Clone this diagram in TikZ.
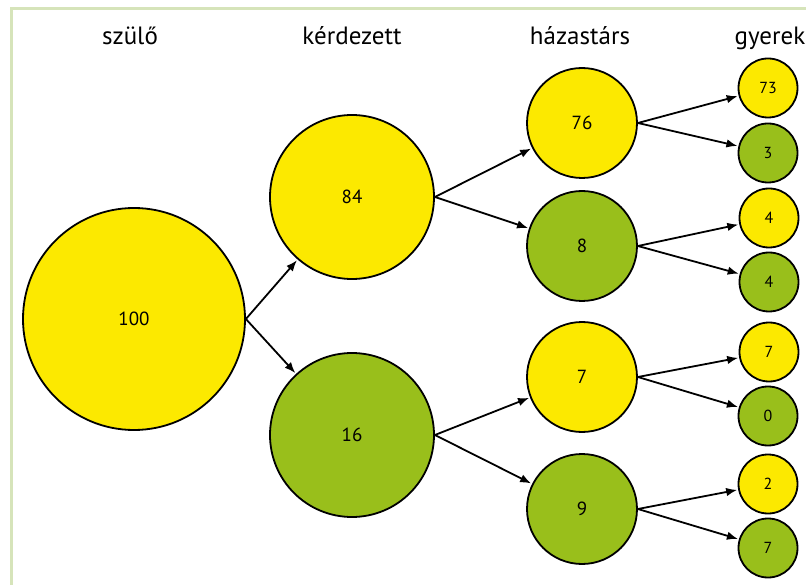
\documentclass[tikz,border=0pt]{standalone}
\usepackage{fontspec}
\setmainfont{PT Sans}
\usetikzlibrary{arrows.meta}
\definecolor{cyel}{RGB}{252,233,0}
\definecolor{cgrn}{RGB}{153,191,27}
\definecolor{cframe}{RGB}{214,228,186}
\tikzset{
  bub/.style={circle,draw=black,line width=1.8pt,inner sep=0pt,font=\fontsize{19}{19}\selectfont},
  big/.style={bub,minimum size=222pt},
  mid/.style={bub,minimum size=164pt},
  sml/.style={bub,minimum size=110pt},
  tiny/.style={bub,minimum size=59pt,font=\fontsize{16}{16}\selectfont},
  yel/.style={fill=cyel},
  grn/.style={fill=cgrn},
  hdr/.style={font=\fontsize{25}{25}\selectfont,anchor=base},
  arr/.style={-{Latex[length=11pt,width=8.5pt]},line width=1.8pt,shorten >=1pt},
}
\begin{document}
\begin{tikzpicture}[x=1pt,y=-1pt]
\useasboundingbox (0,0) rectangle (806,585);
\begin{scope}
\clip (0,0) rectangle (806,585);
\draw[cframe,line width=2.5pt] (11.5,8.5) rectangle (830,600);
\end{scope}
\node[hdr] (t1) at (130,45) {szülő};
\node[hdr] (t2) at (352,45) {kérdezett};
\node[hdr] (t3) at (580,45) {házastárs};
\node[hdr] (t4) at (770,45) {gyerek};

\node[big,yel] (p) at (134,319) {100};
\node[mid,yel] (k1) at (352,197) {84};
\node[mid,grn] (k2) at (352,435) {16};
\node[sml,yel] (h1) at (582,123) {76};
\node[sml,grn] (h2) at (582,246) {8};
\node[sml,yel] (h3) at (582,377) {7};
\node[sml,grn] (h4) at (582,509) {9};
\node[tiny,yel] (g1) at (768,88) {73};
\node[tiny,grn] (g2) at (768,153) {3};
\node[tiny,yel] (g3) at (769,218) {4};
\node[tiny,grn] (g4) at (769,282) {4};
\node[tiny,yel] (g5) at (769,352) {7};
\node[tiny,grn] (g6) at (768,416) {0};
\node[tiny,yel] (g7) at (768,484) {2};
\node[tiny,grn] (g8) at (768,548) {7};

\draw[arr] (p.east) -- (k1);
\draw[arr] (p.east) -- (k2);
\draw[arr] (k1.east) -- (h1);
\draw[arr] (k1.east) -- (h2);
\draw[arr] (k2.east) -- (h3);
\draw[arr] (k2.east) -- (h4);
\draw[arr] (h1.east) -- (g1);
\draw[arr] (h1.east) -- (g2);
\draw[arr] (h2.east) -- (g3);
\draw[arr] (h2.east) -- (g4);
\draw[arr] (h3.east) -- (g5);
\draw[arr] (h3.east) -- (g6);
\draw[arr] (h4.east) -- (g7);
\draw[arr] (h4.east) -- (g8);
\end{tikzpicture}
\end{document}
